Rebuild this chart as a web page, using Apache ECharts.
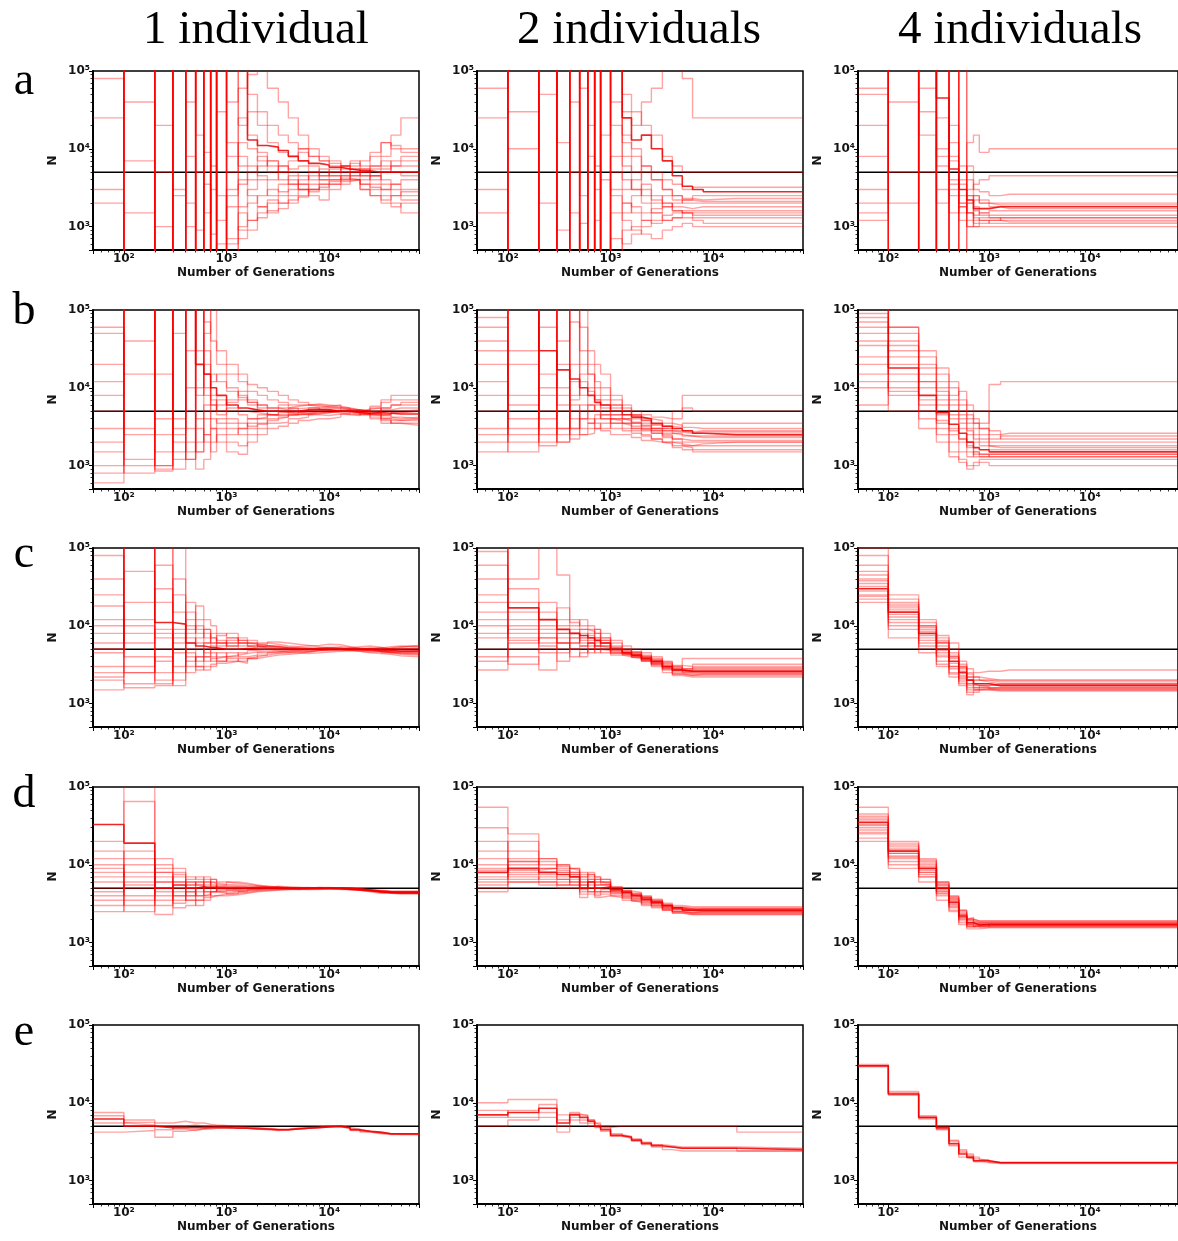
<!DOCTYPE html>
<html><head><meta charset="utf-8">
<script src="https://cdn.jsdelivr.net/npm/echarts@6/dist/echarts.min.js"></script>
<style>html,body{margin:0;padding:0;background:#fff}#c{width:1178px;height:1241px}</style>
</head><body><div id="c"></div><script>
// ---------- data ----------
const HI = 300000;   // above plotted range (line leaves the top)
const LO = 300;      // below plotted range (line leaves the bottom)
const trueN = 5000;
const xMin = 50, xMax = 75000, yMin = 500, yMax = 100000;
const xTickValues = [100, 1000, 10000];
const xTickLabels = ['10\u00b2', '10\u00b3', '10\u2074'];
const yTickValues = [1000, 10000, 100000];
const yTickLabels = ['10\u00b3', '10\u2074', '10\u2075'];
const colTitles = ['1 individual', '2 individuals', '4 individuals'];
const rowLetters = ['a', 'b', 'c', 'd', 'e'];

// interval start times (generations) per column
const T1 = [50,100,200,300,400,500,600,700,800,1000,1300,1600,2000,2500,3200,4000,5000,6300,8000,10000,13000,16000,20000,25000,32000,40000,50000];
const T2 = [50,100,200,300,400,500,600,700,800,1000,1300,1600,2000,2500,3200,4000,5000,6300,8000,17000];
const T3 = [50,100,200,300,400,500,600,700,800,1000,1300,1600];

// each panel: replicate trajectories (first = highlighted)
const a1 = [
 [HI,HI,HI,HI,HI,HI,HI,HI,HI,HI,HI,13000,11000,10500,9500,8000,7000,6500,6200,5800,5500,5300,5200,5000,5000,5000,5000],
 [80000,LO,HI,3000,LO,HI,1500,HI,2500,700,1800,3000,4000,2500,3500,4500,3000,2500,2200,3000,3500,4000,3000,2500,2000,1800,2000],
 [LO,HI,20000,LO,HI,900,HI,LO,30000,12000,6000,4000,8000,6000,5000,7000,9000,6000,4500,5000,6000,7000,6000,8000,12000,10000,9000],
 [HI,7000,LO,HI,2000,LO,HI,6000,LO,3000,25000,15000,7000,5000,4000,3500,4000,5000,5500,4500,4000,5000,4500,3500,3000,3500,4000],
 [2000,LO,HI,LO,40000,HI,LO,HI,1200,HI,900,2000,2500,3000,2800,3500,3000,3500,4000,4000,4500,5000,5500,6000,7000,5000,4500],
 [LO,40000,LO,HI,LO,5000,HI,800,HI,LO,1500,1200,1800,2200,2000,2500,3000,2800,3500,3800,4200,4000,3000,2500,2200,2500,2800],
 [HI,LO,5000,HI,LO,HI,LO,3000,HI,40000,60000,90000,HI,60000,40000,25000,15000,10000,8000,7000,6000,5500,5000,6000,8000,15000,25000],
 [25000,HI,LO,2500,HI,LO,9000,LO,600,HI,20000,30000,20000,12000,9000,8000,10000,8000,7000,6000,5000,4500,4000,4500,5500,6000,7000],
 [LO,1500,HI,LO,HI,15000,LO,HI,LO,1800,4000,2500,1800,1500,1700,2000,2400,3000,3200,3500,3800,4000,3500,3000,2500,2000,1500],
 [HI,LO,1000,HI,8000,LO,HI,LO,HI,5000,8000,6000,4500,4000,6000,5500,6000,5000,4000,4500,5000,6000,7000,9000,12000,11000,10000],
 [HI,LO,HI,LO,HI,LO,HI,LO,HI,LO,700,900,1500,2000,2500,3000,3500,4500,5000,5500,6000,6500,5500,4500,3500,3000,2500],
 [LO,HI,LO,HI,LO,HI,LO,HI,LO,HI,HI,50000,30000,20000,15000,12000,10000,8000,7000,6500,6000,5500,5000,5500,6000,7000,8000],
 [3000,HI,LO,HI,1000,HI,LO,HI,LO,2500,3500,5000,6000,7000,5000,4000,3500,3000,3000,3500,4000,4500,5000,4500,4000,3500,3000],
 [HI,LO,HI,LO,HI,LO,3500,LO,HI,8000,12000,10000,9000,7000,6000,5000,4500,4000,4500,5000,5500,5000,4500,4000,5000,6000,6000],
 [LO,HI,LO,HI,LO,HI,LO,HI,LO,600,1000,1200,1300,1600,2000,2200,2500,3000,3500,4000,4500,4000,3500,3200,3000,2500,2200]
];
const a2 = [
 [HI,HI,HI,HI,HI,HI,HI,HI,HI,HI,25000,13000,15000,10000,7000,4500,3300,3000,2800,2800],
 [LO,HI,LO,HI,1500,LO,HI,3000,LO,HI,6000,3000,2000,1500,1200,1300,1500,1400,1400,1400],
 [HI,30000,HI,LO,HI,60000,LO,HI,4000,LO,1500,2500,3500,2500,2000,1800,1700,1800,1800,1800],
 [3000,LO,HI,12000,LO,HI,8000,LO,HI,20000,8000,5000,3000,2200,2000,1600,1500,1200,1100,1100],
 [LO,HI,2000,HI,40000,LO,HI,LO,HI,2500,1200,900,800,700,900,1000,1100,1000,1000,1000],
 [HI,LO,HI,LO,HI,2500,20000,HI,LO,5000,3000,4000,6000,5000,4000,3500,3000,3200,3200,3200],
 [60000,HI,LO,HI,LO,HI,LO,1200,HI,40000,30000,20000,40000,60000,HI,HI,80000,25000,25000,25000],
 [LO,10000,HI,900,HI,LO,HI,6000,LO,1500,2000,1800,1500,1700,2500,2200,2000,2000,2000,2000],
 [HI,LO,50000,HI,LO,1100,HI,LO,15000,HI,12000,8000,5000,4000,3000,2500,2300,2200,2300,2300],
 [1500,HI,LO,HI,5000,HI,LO,HI,LO,700,600,800,1000,1200,1400,1500,1600,1600,1600,1600],
 [HI,LO,HI,LO,HI,LO,HI,LO,HI,LO,900,1000,1200,1500,1800,2000,2200,2500,2500,2500],
 [LO,HI,LO,HI,LO,HI,LO,HI,LO,HI,50000,30000,20000,15000,8000,6000,5000,5000,5000,5000],
 [HI,LO,HI,LO,HI,LO,HI,LO,HI,3000,2000,1500,1200,1100,1200,1300,1300,1300,1300,1300],
 [25000,HI,LO,HI,LO,HI,LO,HI,LO,8000,4000,3000,2500,2000,1800,1600,1500,1500,1500,1500],
 [LO,HI,LO,HI,LO,HI,LO,HI,LO,HI,15000,10000,6000,4000,3000,2500,2200,2100,2100,2100]
];
const a3 = [
 [HI,HI,HI,45000,5500,3000,2200,1700,1700,1800,1800,1800],
 [HI,LO,HI,LO,HI,1500,2500,1200,1300,1300,1200,1200],
 [2000,HI,LO,HI,8000,LO,4000,2500,2000,1800,1700,1700],
 [LO,HI,15000,LO,3000,HI,1000,1800,1500,1400,1400,1400],
 [50000,LO,HI,6000,1500,4000,12000,15000,9000,10000,10000,10000],
 [1500,HI,LO,25000,7000,2000,1500,1100,1200,1100,1100,1100],
 [HI,2000,HI,LO,12000,6000,3000,3500,4000,4500,4500,4500],
 [20000,LO,60000,3000,LO,1800,2000,2500,2200,2000,2000,2000],
 [3000,HI,5000,HI,2500,LO,6000,3000,2800,2500,2600,2600],
 [HI,40000,LO,10000,20000,2500,1200,1000,1100,1200,1300,1300],
 [HI,5000,HI,LO,HI,2000,1500,1300,1200,1200,1150,1150],
 [8000,HI,LO,HI,3500,1800,1500,1400,1500,1600,1600,1600],
 [LO,HI,30000,2000,HI,3500,2000,2200,2000,1900,1900,1900],
 [60000,LO,HI,8000,LO,HI,2500,1600,1400,1300,1300,1300],
 [1200,HI,LO,HI,4000,1200,1000,1000,1000,1000,1000,1000]
];
const b1 = [
 [HI,HI,HI,HI,HI,20000,15000,10000,8000,6000,5500,5200,5000,5000,5000,5000,5200,5300,5200,5000,5000,4800,4700,4800,4700,4600,4600],
 [1000,HI,850,50000,HI,3000,2500,4000,3500,3000,2500,3000,3500,4000,4200,4500,4800,5000,5200,5000,5000,4800,4600,4500,4000,3500,3300],
 [20000,800,HI,900,10000,HI,30000,8000,5000,7000,9000,7000,6000,5500,6000,5500,5000,5200,5500,5400,5000,5000,5200,5800,6500,7000,7000],
 [HI,3000,1000,HI,2000,1500,6000,12000,15000,10000,8000,6500,5000,4500,4500,4800,5000,5500,5800,6000,5500,5000,4500,4000,3500,3800,4000],
 [600,HI,5000,2000,1200,HI,2000,1500,2500,2000,1800,2500,3000,3500,3600,4000,4200,4500,4400,4600,4500,4400,4800,5000,5500,6000,6500],
 [5000,2500,HI,1200,HI,8000,50000,HI,20000,15000,12000,9000,8000,7000,6500,6000,6000,5800,5600,5500,5200,5000,5000,4800,4500,4200,4000],
 [2000,HI,1000,HI,5000,900,1200,3000,2000,1500,1400,2000,2500,3000,3200,3500,3800,4000,4000,4200,4600,5000,5300,5500,5000,5000,5200],
 [60000,1200,15000,3000,HI,4000,5000,6000,7000,5000,4500,4000,4200,4500,5000,5400,5500,5600,5200,5000,4800,4600,4500,4400,4500,4800,5000],
 [12000,40000,HI,1500,30000,HI,70000,40000,30000,20000,15000,11000,10000,9000,8000,7000,6500,6000,5800,5600,5400,5200,5000,5500,7000,8000,8000],
 [1500,HI,2500,HI,1200,10000,HI,3000,4000,3500,3000,3500,4000,4500,4800,4800,4700,4900,4800,5000,4900,4800,4600,4200,3800,3500,3500],
 [800,HI,1500,HI,3000,2000,4000,5000,6000,6500,7000,6500,6000,5500,5200,5000,5000,5000,4900,4800,4600,4500,4600,4800,5200,5500,5500],
 [HI,15000,HI,4000,HI,HI,10000,7000,5000,4000,3500,3200,3400,3800,4200,4500,4600,4700,4800,5000,5200,5200,5000,4600,4000,3800,3800],
 [3000,HI,900,HI,HI,30000,20000,15000,12000,9000,7500,6000,5500,5000,4800,4600,4500,4600,4800,5000,5100,5000,4800,4500,4500,4800,5000],
 [50000,1000,HI,2500,HI,1500,2500,2000,3000,2500,3000,4000,4500,5000,5500,5800,6000,6200,6000,5800,5500,5200,5000,4800,4200,4000,4200],
 [8000,HI,4000,HI,1500,HI,8000,6000,4500,5500,5000,4800,4600,4400,4400,4500,4600,4800,5000,5200,5300,5200,5000,5000,5500,6000,6000]
];
const b2 = [
 [HI,HI,30000,17000,13000,10000,8000,6500,6000,5000,4500,4200,4000,3500,3200,3000,2800,2600,2500,2500],
 [2000,HI,1800,5000,3000,4000,3500,4000,4500,3500,3000,2800,2500,2200,2000,1800,1700,1600,1600,1600],
 [HI,1500,HI,2000,70000,20000,15000,10000,8000,6000,5000,4000,3500,3000,2800,2600,2400,2400,2400,2400],
 [40000,6000,10000,HI,2200,2500,3000,3500,3000,4000,3500,3000,3000,2800,2500,2200,2000,2000,2000,2000],
 [5000,30000,2500,3000,12000,8000,6000,5000,4500,4500,4000,3600,3300,3000,2800,2700,2600,2700,2700,2700],
 [1500,HI,15000,6000,4000,2500,2600,3000,2800,2500,2500,2300,2100,2000,1900,1700,1600,1500,1500,1500],
 [12000,3000,60000,40000,HI,60000,30000,20000,15000,8000,6000,5000,4500,4200,4000,5000,8000,8000,8000,8000],
 [80000,8000,5000,2000,7000,15000,10000,7000,6000,5500,5000,4500,4000,3800,3500,3300,3100,3000,3000,3000],
 [3000,HI,2000,20000,3000,6000,4000,3000,3500,3000,2800,2600,2400,2200,2000,1900,1800,1900,2000,2000],
 [20000,2000,HI,8000,5000,4000,5000,6000,5000,4000,3800,3500,3200,3000,3000,4000,5500,5000,5000,5000],
 [HI,2500,HI,2500,20000,12000,9000,7000,5500,4500,4000,3500,3000,2800,2600,2500,2400,2300,2300,2300],
 [8000,HI,3000,HI,2500,5000,6000,5000,4000,3500,3300,3000,2800,2600,2400,2200,2100,2100,2100,2100],
 [60000,4000,HI,10000,8000,HI,20000,12000,10000,7000,5500,4500,3800,3300,3000,2800,2700,2800,2800,2800],
 [2500,20000,4000,HI,6000,3000,3500,4500,4000,3800,3500,3200,2900,2600,2300,2000,1800,1800,1800,1800],
 [30000,HI,8000,3000,HI,30000,15000,8000,7000,6000,5000,4400,3800,3400,3200,3100,3500,3500,3500,3500]
];
const b3 = [
 [HI,18000,8000,4800,3400,2600,2000,1700,1600,1500,1500,1500],
 [80000,30000,12000,8000,5000,4000,3000,2500,2200,2000,2000,2000],
 [20000,8000,4000,2500,1500,1200,1000,1100,1200,1200,1200,1200],
 [50000,60000,25000,15000,10000,7000,5000,4000,3500,11000,12000,12000],
 [10000,12000,6000,3000,2500,2000,1500,1300,1300,1300,1300,1300],
 [35000,20000,10000,6000,4000,3000,2500,2000,1800,1700,1700,1700],
 [90000,5000,3000,2000,1300,1100,900,1000,1100,1000,1000,1000],
 [15000,40000,15000,10000,6000,4500,3500,3000,2500,2500,2600,2600],
 [60000,10000,5000,3500,2000,1500,1300,1500,1400,1400,1400,1400],
 [6000,25000,20000,12000,8000,9000,6000,5000,5000,2800,2200,2200],
 [40000,15000,7000,4500,3000,2200,1800,1500,1400,1300,1300,1300],
 [70000,50000,18000,9000,7000,5000,4000,3500,3000,1800,1800,1800],
 [12000,9000,5000,3800,2800,2200,1700,1400,1300,1400,1400,1400],
 [25000,35000,12000,7000,4500,3500,2800,2200,2000,1600,1600,1600],
 [HI,60000,30000,18000,12000,6000,4500,3500,3000,2200,2400,2400]
];
const c1 = [
 [5000,HI,11000,10500,6000,5500,5300,5200,5000,5000,5100,5000,5000,5000,5000,5000,5000,5000,5000,5000,5000,5000,5000,4900,4800,4700,4700],
 [2000,1600,1700,8000,2500,3000,4000,4500,3500,4000,4500,4800,5000,4800,4600,4500,4400,4500,4600,4700,4800,4900,5000,4800,4500,4300,4200],
 [25000,HI,HI,1700,15000,12000,9000,7000,6000,5500,6000,5500,5200,5000,5200,5300,5200,5000,4900,4800,4800,4700,4600,4600,4800,5000,5200],
 [3000,10000,1800,40000,9000,18000,12000,10000,8000,7000,6500,6000,5500,5500,5200,5000,4800,5000,5200,5400,5300,5100,5000,5200,5400,5500,5500],
 [80000,2500,5000,3000,20000,6000,4000,3500,4000,4500,4000,4200,4500,4600,4800,4700,4600,4800,5000,5000,5100,5000,4900,4700,4500,4400,4300],
 [1500,20000,30000,6000,3000,4000,6000,8000,6500,6000,7000,6500,6000,5800,5500,5400,5500,5600,5800,5700,5400,5200,5000,5000,5100,5300,5600],
 [8000,4000,2500,HI,4000,2700,3000,3200,3500,3800,3500,3800,4000,4200,4300,4400,4600,4800,4900,5000,5000,4900,4800,4700,4600,4600,4600],
 [12000,6000,60000,15000,8000,10000,7000,6000,7500,8000,6000,5500,5300,5200,5000,4900,5000,5200,5300,5200,5000,5000,5100,5200,5100,5000,4900],
 [2500,3000,4000,2000,5000,3500,5000,4000,4500,3500,3300,3800,4200,4500,4600,4800,5000,5100,5000,4900,4800,4700,4500,4400,4300,4100,4000],
 [4500,50000,8000,4500,12000,8000,9000,6000,5000,6000,5500,5200,5800,6200,6000,5800,5600,5400,5200,5000,5200,5400,5500,5300,5000,4800,4800],
 [18000,8000,3500,7000,7000,5000,4500,5500,6000,5500,5000,5200,5500,5300,5100,5000,5100,5200,5100,5000,4900,4800,4800,4900,5000,5100,5100],
 [2200,2500,20000,5000,3500,4000,3500,3800,4000,4200,4400,4600,4700,4700,4800,4900,4900,4900,5000,5000,5000,4900,4800,4700,4600,4500,4400],
 [6000,HI,2000,25000,6000,7000,8000,7000,6000,6500,6000,5800,5600,5400,5200,5100,5000,4900,4900,5000,5000,5100,5200,5100,5000,4900,4900],
 [40000,1800,9000,2500,4500,3000,2700,3000,3300,3500,3800,4000,4200,4400,4500,4600,4700,4800,4800,4900,4900,4900,4800,4700,4600,4500,4500],
 [10000,12000,7000,9000,10000,9000,6000,5000,5500,7000,6500,6000,5500,5400,5300,5200,5100,5100,5200,5200,5100,5000,5000,5000,5200,5400,5400]
];
const c2 = [
 [HI,17000,12000,9000,8000,7500,7000,6500,6000,5000,4500,4200,3800,3500,3000,2700,2600,2600,2600,2600],
 [5000,4000,2700,6000,5000,5500,6000,5000,4500,4200,4000,3800,3500,3000,2500,2300,2200,2200,2200,2200],
 [25000,40000,HI,45000,12000,10000,9000,8000,7000,6000,5000,4500,4000,3500,3000,2800,3800,3800,3800,3800],
 [10000,8000,6000,17000,10000,12000,10000,9000,8000,6500,5500,5000,4500,4000,3500,3000,2800,2800,2800,2800],
 [2700,6000,9000,5000,4000,4500,5000,5500,5000,4500,4200,4000,3600,3200,2800,2500,2400,2400,2400,2400],
 [60000,12000,7000,8000,7000,8000,7500,7000,6500,5500,5000,4600,4200,3800,3400,3100,3000,3000,3000,3000],
 [7000,30000,15000,10000,9000,6000,5500,6000,5500,5000,4600,4300,3900,3400,3000,2600,2500,2500,2500,2500],
 [15000,5000,4500,3500,6000,7000,8000,9000,7000,5200,4800,4400,4000,3600,3200,2900,2700,2700,2700,2700],
 [3500,10000,20000,12000,11000,9000,6500,5500,6000,4800,4400,4100,3700,3300,2900,2700,2600,2900,2900,2900],
 [40000,7000,5000,7000,5000,5000,4500,5000,4800,4500,4300,4000,3700,3300,2800,2400,2300,2300,2300,2300],
 [20000,15000,8000,6000,7000,6500,6000,5500,5200,4700,4300,4000,3600,3200,2900,2700,2600,2600,2600,2600],
 [8000,9000,10000,8000,6000,9000,8500,6500,5500,5000,4600,4200,3800,3400,3000,2700,2500,2500,2500,2500],
 [4000,20000,5500,4500,8000,5500,5000,7000,6000,4900,4500,4200,3900,3500,3100,2800,2600,2600,2600,2600],
 [12000,3200,7000,6000,5000,4000,6000,4500,5000,4400,4200,3900,3500,3100,2700,2400,2300,2400,2400,2400],
 [90000,6500,12000,9000,8000,7000,6000,8000,6500,5300,4900,4600,4100,3700,3300,3000,2800,3200,3200,3200]
];
const c3 = [
 [30000,15000,8000,5000,3500,2500,2000,1800,1800,1700,1700,1700],
 [45000,20000,10000,6000,4000,3000,2200,2000,2000,1900,1900,1900],
 [22000,12000,6000,4000,3000,2000,1600,1500,1500,1500,1500,1500],
 [100000,25000,12000,7000,5000,3500,2800,2500,2600,2600,2700,2700],
 [25000,9000,5000,3500,2500,1800,1400,1500,1600,1600,1600,1600],
 [35000,18000,9000,6000,4500,3000,2500,2200,2000,2000,2000,2000],
 [60000,10000,7000,4500,3000,2200,1800,1600,1700,1800,1800,1800],
 [20000,16000,11000,7500,6000,3200,2200,2000,1900,1800,1800,1800],
 [40000,7000,4500,3000,2200,1700,1300,1400,1500,1450,1450,1450],
 [28000,22000,8500,5500,3800,2600,2000,1700,1650,1550,1550,1550],
 [50000,14000,7500,4800,3300,2300,1700,1600,1600,1600,1600,1600],
 [32000,11000,6500,4200,2800,1900,1500,1500,1550,1500,1500,1500],
 [80000,19000,9500,6500,4000,2800,2400,2200,2100,2000,2000,2000],
 [24000,13000,5500,3200,2400,2100,1800,1700,1700,1750,1750,1750],
 [38000,17000,10000,6200,4200,2900,2000,1800,1800,1700,1700,1700]
];
const d1 = [
 [33000,19000,5000,5500,5000,5200,5100,5000,5000,5000,5000,5000,5000,5000,5000,5000,5000,5000,5000,5000,4900,4800,4700,4500,4400,4400,4400],
 [12000,HI,8000,8000,6000,5500,5000,5200,5400,5300,5200,5100,5000,5000,4900,4900,5000,5000,5000,4900,4900,4800,4700,4500,4400,4300,4300],
 [4000,6000,2300,4000,4500,4000,4200,4500,4300,4500,4600,4700,4800,4800,4900,5000,5000,4900,4900,5000,4900,4800,4600,4400,4300,4200,4200],
 [8000,3000,12000,9000,7000,6500,6000,5800,5600,5500,5400,5300,5200,5100,5100,5000,5000,5100,5100,5000,5000,4900,4800,4600,4500,4500,4500],
 [2500,10000,5000,2800,3000,3500,3800,4000,4200,4300,4400,4600,4700,4800,4800,4900,4900,5000,5000,4900,4800,4700,4500,4300,4300,4300,4300],
 [6000,4000,8000,6000,4000,4500,5500,6000,5000,4800,5000,5200,5300,5200,5000,4900,5000,5100,5000,5000,5000,4900,4800,4700,4600,4600,4600],
 [20000,65000,3000,5000,6500,7000,6500,5500,4500,4200,4500,4800,5000,5300,5200,5100,5100,5000,4900,4800,4800,4800,4700,4600,4500,4400,4400],
 [5000,15000,6000,3500,5000,3000,3500,4500,5500,6000,5800,5500,5300,5100,5000,5000,4800,4800,4900,5000,5000,4900,4700,4500,4400,4400,4400],
 [9000,5000,4000,7000,5500,6000,4500,4000,4000,4100,4300,4500,4600,4700,4800,4800,4900,4900,5000,5000,5000,4900,4700,4500,4500,4500,4500],
 [3500,2500,9000,4500,3500,5000,7000,6500,6000,5800,5600,5400,5200,5000,5000,4800,4800,4900,5000,5000,4900,4800,4700,4600,4500,4400,4400],
 [7000,8000,3500,6000,4500,5000,5200,5300,5200,5100,5000,5000,4900,4900,4900,5000,5000,5000,5000,4900,4800,4700,4600,4500,4400,4300,4300],
 [4500,5500,10000,4000,5500,6000,4000,4500,4800,4900,5000,5100,5100,5000,5000,4900,5000,5000,4900,4900,4800,4800,4700,4600,4500,4500,4500],
 [15000,7000,4500,3200,4000,5500,6000,5000,5200,5200,5200,5100,5100,5100,5000,5000,5000,5000,5000,5000,4900,4800,4600,4500,4400,4400,4400],
 [3000,12000,7000,5000,6000,4000,5000,6500,5000,4700,4800,4900,4900,4900,4900,4900,4900,4900,4900,4900,4800,4700,4600,4500,4400,4300,4300],
 [10000,3500,6000,7500,3500,3500,4500,5200,4600,4600,4700,4800,5000,5200,5100,5100,5000,5000,5000,5000,5000,4900,4800,4600,4500,4500,4500]
];
const d2 = [
 [8000,9000,8000,7500,7000,5000,6000,5000,5200,4800,4400,4000,3600,3300,3000,2800,2600,2600,2600,2600],
 [55000,25000,12000,10000,9000,8000,7500,7000,6500,5200,4700,4300,3900,3500,3100,2900,2800,2800,2800,2800],
 [5000,6000,5500,5000,5000,3800,4200,3800,4000,3800,3500,3300,3000,2800,2600,2400,2300,2300,2300,2300],
 [12000,11000,10000,9000,8500,7000,7500,6500,6000,5000,4500,4100,3700,3400,3000,2700,2600,2700,2700,2700],
 [20000,7000,6500,6000,6000,4500,5000,4500,4500,4400,4000,3700,3400,3100,2800,2600,2500,2500,2500,2500],
 [6500,15000,9000,8000,7500,6000,6500,5500,5500,4600,4200,3800,3500,3200,2900,2700,2600,2500,2500,2500],
 [9000,6500,7000,7000,6500,5500,4500,5000,5000,4500,4100,3900,3600,3200,2800,2500,2400,2400,2400,2400],
 [4500,10000,12000,9500,8000,6500,7000,6000,5800,4900,4500,4200,3800,3300,3000,2800,2700,2700,2700,2700],
 [30000,8000,7500,6500,5500,5000,5500,4200,4200,4200,3800,3500,3200,3000,2700,2500,2400,2500,2500,2500],
 [7000,12000,6000,5500,9000,7500,6000,6500,6000,5000,4600,4400,4000,3600,3200,3000,2900,2900,2900,2900],
 [10000,8500,9000,8000,7000,6000,5000,5500,5500,4700,4300,3900,3500,3200,2900,2700,2600,2600,2600,2600],
 [6000,7500,8000,6500,6000,4800,6000,4500,4800,4300,3900,3600,3300,3000,2700,2500,2400,2400,2400,2400],
 [15000,20000,11000,8500,8000,7000,8000,7000,6500,5200,4600,4200,3800,3400,3000,2800,2700,2700,2700,2700],
 [5500,6000,6000,5500,5500,4200,4500,4000,4500,4000,3700,3400,3100,2900,2600,2400,2300,2300,2300,2300],
 [8500,11000,9000,10000,7500,5500,6500,6000,5600,4800,4400,4100,3800,3400,3000,2800,2700,2600,2600,2600]
];
const d3 = [
 [35000,15000,9000,5000,3300,2200,1800,1700,1700,1700,1700,1700],
 [55000,20000,12000,6000,4000,2600,2000,1900,1900,1900,1900,1900],
 [20000,10000,7000,4000,2600,1700,1500,1500,1550,1550,1550,1550],
 [40000,17000,10000,5500,3700,2400,2000,1800,1800,1800,1800,1800],
 [25000,12000,7500,4500,2800,1900,1600,1600,1650,1650,1650,1650],
 [30000,14000,8500,5200,3500,2300,1700,1750,1750,1750,1750,1750],
 [45000,18000,11000,4800,3000,2000,2100,1650,1700,1600,1600,1600],
 [28000,9000,6000,3500,2500,2100,1900,1850,1850,1850,1850,1850],
 [33000,16000,9500,5800,3800,2500,1800,1700,1600,1700,1700,1700],
 [38000,13000,8000,4200,3200,1800,1600,1650,1750,1750,1750,1750],
 [32000,15500,9000,5000,3400,2200,1750,1700,1700,1700,1700,1700],
 [42000,14000,10500,5500,3600,2300,1900,1800,1800,1800,1800,1800],
 [26000,11000,7000,4300,2900,2000,1650,1650,1650,1650,1650,1650],
 [36000,19000,11500,6000,3900,2600,2000,1900,1900,1900,1900,1900],
 [22000,12500,8000,4600,3100,2100,1700,1600,1600,1600,1600,1600]
];
const e1 = [
 [6200,5000,4800,4800,4800,4800,4800,4800,4800,4700,4700,4600,4600,4500,4500,4600,4700,4800,4900,5000,4800,4500,4300,4200,4000,4000,4000],
 [7500,6000,5500,5800,5500,5500,5300,5200,5100,5000,4900,4800,4700,4600,4500,4600,4700,4800,4900,5000,4800,4500,4300,4100,4000,3900,3900],
 [4200,4400,3600,4300,4500,4600,4600,4700,4700,4800,4700,4600,4500,4400,4500,4600,4700,4800,4900,4900,4700,4400,4200,4100,4000,4000,4000],
 [5500,5200,4500,5000,5200,5000,5000,4900,4900,4800,4800,4700,4600,4500,4500,4700,4800,4900,5000,5000,4800,4600,4300,4100,4000,4000,4000],
 [6800,5600,5000,4600,4400,4600,4800,5000,5000,4900,4800,4700,4600,4500,4600,4700,4800,4900,5000,4900,4700,4500,4200,4000,3900,3900,3900]
];
const e2 = [
 [7000,7500,8500,5500,7000,6500,5800,5000,4500,3800,3600,3300,3000,2800,2700,2600,2600,2600,2600,2500],
 [10000,11000,11000,7000,7500,7000,6000,5500,5000,4000,3700,3400,3100,2900,2700,2600,2600,2600,2600,2400],
 [5000,6000,6500,4200,6000,5500,5000,4800,4800,5000,5000,5000,5000,5000,5000,5000,5000,5000,5000,4200],
 [6500,8000,9500,5000,6500,6000,5500,5200,4700,3700,3500,3200,2900,2700,2500,2400,2400,2400,2400,2400],
 [8000,6500,7500,6000,7200,6800,6000,4800,4300,3900,3700,3400,3100,2900,2800,2700,2700,2700,2700,2600]
];
const e3 = [
 [30000,13000,6500,4800,3000,2200,2000,1800,1800,1700,1700,1700],
 [30000,13500,6500,4500,3200,2400,2100,1900,1800,1700,1700,1700],
 [29000,12500,6200,5000,2800,2000,1900,1750,1700,1650,1650,1650],
 [31000,14000,6800,4600,3300,2500,2200,2000,1850,1700,1700,1700],
 [30000,13000,6400,4700,2900,2300,1950,1800,1750,1700,1700,1700]
];

// ---------- layout ----------
const panelRows = [[a1,a2,a3],[b1,b2,b3],[c1,c2,c3],[d1,d2,d3],[e1,e2,e3]];
const colTimes = [T1, T2, T3];
const colLeft = [93, 477, 858];
const rowTop = [71, 310, 548, 787, 1025];
const gw = 326, gh = 179;

function labelFor(values, labels) {
  return function (v) {
    for (let i = 0; i < values.length; i++) {
      if (Math.abs(v - values[i]) < values[i] * 1e-6) return labels[i];
    }
    return '';
  };
}
const labStyle = {fontFamily: 'DejaVu Sans', fontWeight: 'bold', fontSize: 12, color: '#151515'};

const grids = [], xAxes = [], yAxes = [], series = [];
let g = 0;
for (let r = 0; r < 5; r++) {
  for (let c = 0; c < 3; c++) {
    grids.push({left: colLeft[c], top: rowTop[r], width: gw, height: gh, show: true,
      borderColor: '#000', borderWidth: 1.5, backgroundColor: 'rgba(0,0,0,0)'});
    xAxes.push({type: 'log', logBase: 10, gridIndex: g, min: xMin, max: xMax,
      axisLine: {show: true, onZero: false, lineStyle: {color: '#000', width: 2}},
      axisTick: {show: true, length: 4, lineStyle: {color: '#000', width: 1}},
      minorTick: {show: true, splitNumber: 9, length: 2.5, lineStyle: {color: '#000', width: 0.8}},
      splitLine: {show: false}, minorSplitLine: {show: false},
      axisLabel: Object.assign({formatter: labelFor(xTickValues, xTickLabels), margin: 3, showMinLabel: false, showMaxLabel: false}, labStyle),
      name: 'Number of Generations', nameLocation: 'middle', nameGap: 17,
      nameTextStyle: Object.assign({}, labStyle)});
    yAxes.push({type: 'log', logBase: 10, gridIndex: g, min: yMin, max: yMax,
      axisLine: {show: true, onZero: false, lineStyle: {color: '#000', width: 2}},
      axisTick: {show: true, length: 4, lineStyle: {color: '#000', width: 1}},
      minorTick: {show: true, splitNumber: 9, length: 2.5, lineStyle: {color: '#000', width: 0.8}},
      splitLine: {show: false}, minorSplitLine: {show: false},
      axisLabel: Object.assign({formatter: labelFor(yTickValues, yTickLabels), margin: 3}, labStyle),
      name: 'N', nameLocation: 'middle', nameGap: 34,
      nameTextStyle: Object.assign({}, labStyle)});
    // true population size
    series.push({type: 'line', xAxisIndex: g, yAxisIndex: g, data: [[xMin, trueN], [xMax, trueN]],
      symbol: 'none', silent: true, z: 1, lineStyle: {color: '#000', width: 1.5}});
    const times = colTimes[c];
    const lines = panelRows[r][c];
    lines.forEach(function (vals, k) {
      const data = times.map(function (t, i) { return [t, vals[i]]; });
      data.push([xMax, vals[vals.length - 1]]);
      series.push({type: 'line', xAxisIndex: g, yAxisIndex: g, data: data, step: 'end',
        symbol: 'none', silent: true, clip: true, z: k === 0 ? 4 : 3,
        lineStyle: k === 0 ? {color: 'rgba(235,0,0,0.85)', width: 1.6} : {color: 'rgba(255,0,0,0.36)', width: 1.4}});
    });
    g++;
  }
}

const graphics = [];
const titleX = [256, 639, 1020];
colTitles.forEach(function (t, i) {
  graphics.push({type: 'text', x: titleX[i], y: 31, style: {text: t, font: '47px "Liberation Serif"', fill: '#000', textAlign: 'center', textVerticalAlign: 'middle'}});
});
const letterY = [82, 312, 555, 795, 1033];
rowLetters.forEach(function (t, i) {
  graphics.push({type: 'text', x: 24, y: letterY[i], style: {text: t, font: '46px "Liberation Serif"', fill: '#000', textAlign: 'center', textVerticalAlign: 'middle'}});
});

const chart = echarts.init(document.getElementById('c'), null, {renderer: 'canvas'});
chart.setOption({animation: false, backgroundColor: '#fff', grid: grids, xAxis: xAxes, yAxis: yAxes, series: series, graphic: graphics});
</script></body></html>
